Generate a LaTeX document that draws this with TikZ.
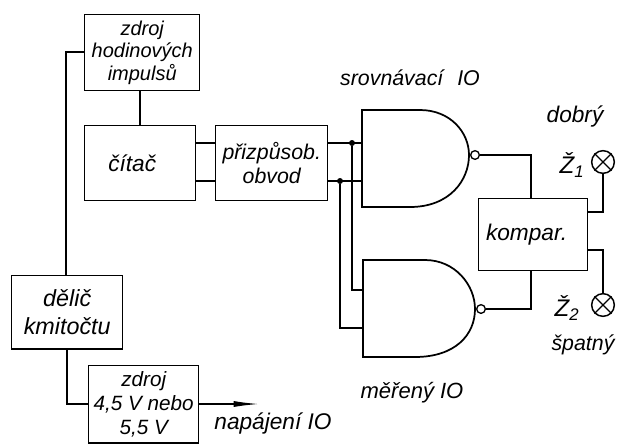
\documentclass[tikz,border=0pt]{standalone}
\usepackage{fontspec}
\setmainfont{Liberation Sans}
\usetikzlibrary{positioning,arrows.meta}

\begin{document}
\begin{tikzpicture}[
        x=0.75pt, y=-0.75pt,
        every node/.style={font=\itshape\fontsize{16}{18}\selectfont},
        box/.style={draw, rectangle, minimum width=#1*0.75pt, align=center, line width=1.1pt, inner sep=0pt, anchor=north west},
        wire/.style={line width=1pt},
        junction/.style={circle, fill=black, inner sep=0pt, minimum size=4.5pt},
        bubble/.style={draw, circle, fill=white, inner sep=0pt, minimum size=6.5pt, line width=1pt},
        lamp/.style={draw, circle, inner sep=0pt, minimum size=17pt, line width=1.1pt},
        gate/.style={line width=1.3pt}
    ]
        \useasboundingbox (0,0) rectangle (617,444);

        \node[box=115, minimum height=57pt, font=\itshape\fontsize{15}{17}\selectfont] (clock) at (84,14) {zdroj\\hodinových\\impulsů};
        \node[box=111, minimum height=56pt, font=\itshape\fontsize{17}{18}\selectfont] (counter) at (84,125) {čítač\hspace{12pt}};
        \node[box=112, minimum height=56pt] (adapter) at (215,125) {přizpůsob.\\obvod\hspace{14pt}};
        \node[box=111, minimum height=55pt, font=\itshape\fontsize{17.5}{21}\selectfont] (divider) at (11,275) {dělič\\kmitočtu};
        \node[box=110, minimum height=58pt, font=\itshape\fontsize{15.5}{18}\selectfont] (supply) at (88,365) {zdroj\\4,5 V nebo\\5,5 V};
        \node[box=109, minimum height=54pt, font=\itshape\fontsize{17}{18}\selectfont] (comp) at (478,198) {kompar.\hspace{10pt}};

        \draw[gate] (362,110) -- (420,110) .. controls (450,110) and (469,132) .. (469,155)
            .. controls (469,180) and (450,207) .. (410,207) -- (362,207) -- cycle;
        \draw[gate] (363,260) -- (425,260) .. controls (455,260) and (475,285) .. (475,309)
            .. controls (475,335) and (455,357) .. (415,357) -- (363,357) -- cycle;
        \node[bubble] (out1) at (475,155) {};
        \node[bubble] (out2) at (481,309) {};

        \coordinate (in1a) at (362,143);
        \coordinate (in1b) at (362,181);
        \coordinate (in2a) at (363,290);
        \coordinate (in2b) at (363,328);
        \node[junction] (dota) at (352,143) {};
        \node[junction] (dotb) at (340,181) {};

        \node[lamp] (good) at (603,162) {};
        \node[lamp] (bad) at (603,305) {};
        \draw[line width=1pt] (good.north west) -- (good.south east) (good.north east) -- (good.south west);
        \draw[line width=1pt] (bad.north west) -- (bad.south east) (bad.north east) -- (bad.south west);

        \draw[wire] (clock.south -| 140,0) -- (counter.north -| 140,0);
        \draw[wire] (counter.east |- in1a) -- (adapter.west |- in1a);
        \draw[wire] (counter.east |- in1b) -- (adapter.west |- in1b);
        \draw[wire] (adapter.east |- in1a) -- (in1a);
        \draw[wire] (adapter.east |- in1b) -- (in1b);
        \draw[wire] (dota) |- (in2a);
        \draw[wire] (dotb) |- (in2b);
        \draw[wire] (out1) -- (out1 -| 531,0) -- (comp.north -| 531,0);
        \draw[wire] (out2) -- (out2 -| 531,0) -- (comp.south -| 531,0);
        \draw[wire] (good) |- (comp.east |- 0,212);
        \draw[wire] (bad) |- (comp.east |- 0,250);
        \draw[wire] (clock.west |- 0,52) -| (divider.north -| 66,0);
        \draw[wire] (divider.south -| 67,0) |- (supply.west |- 0,404);
        \coordinate (feed) at (259,404);
        \draw[wire, -{Latex[length=19pt, width=4.5pt]}] (supply.east |- feed) -- (feed);

        \node (cmp) at (410,78) {srovnávací\hspace{6pt} IO};
        \node[font=\itshape\fontsize{16.5}{18}\selectfont] (mea) at (412,393) {měřený IO};
        \node[font=\itshape\fontsize{17}{18}\selectfont] (feedtxt) at (273,423) {napájení IO};
        \node[font=\itshape\fontsize{17}{18}\selectfont] (goodtxt) at (575,117) {dobrý};
        \node (badtxt) at (583,345) {špatný};
        \node[font=\itshape\fontsize{18}{18}\selectfont] (zone) at (572,165) {Ž$_{\mathit{1}}$};
        \node[font=\itshape\fontsize{18}{18}\selectfont] (ztwo) at (567,308) {Ž$_{\mathit{2}}$};
    \end{tikzpicture}
\end{document}
